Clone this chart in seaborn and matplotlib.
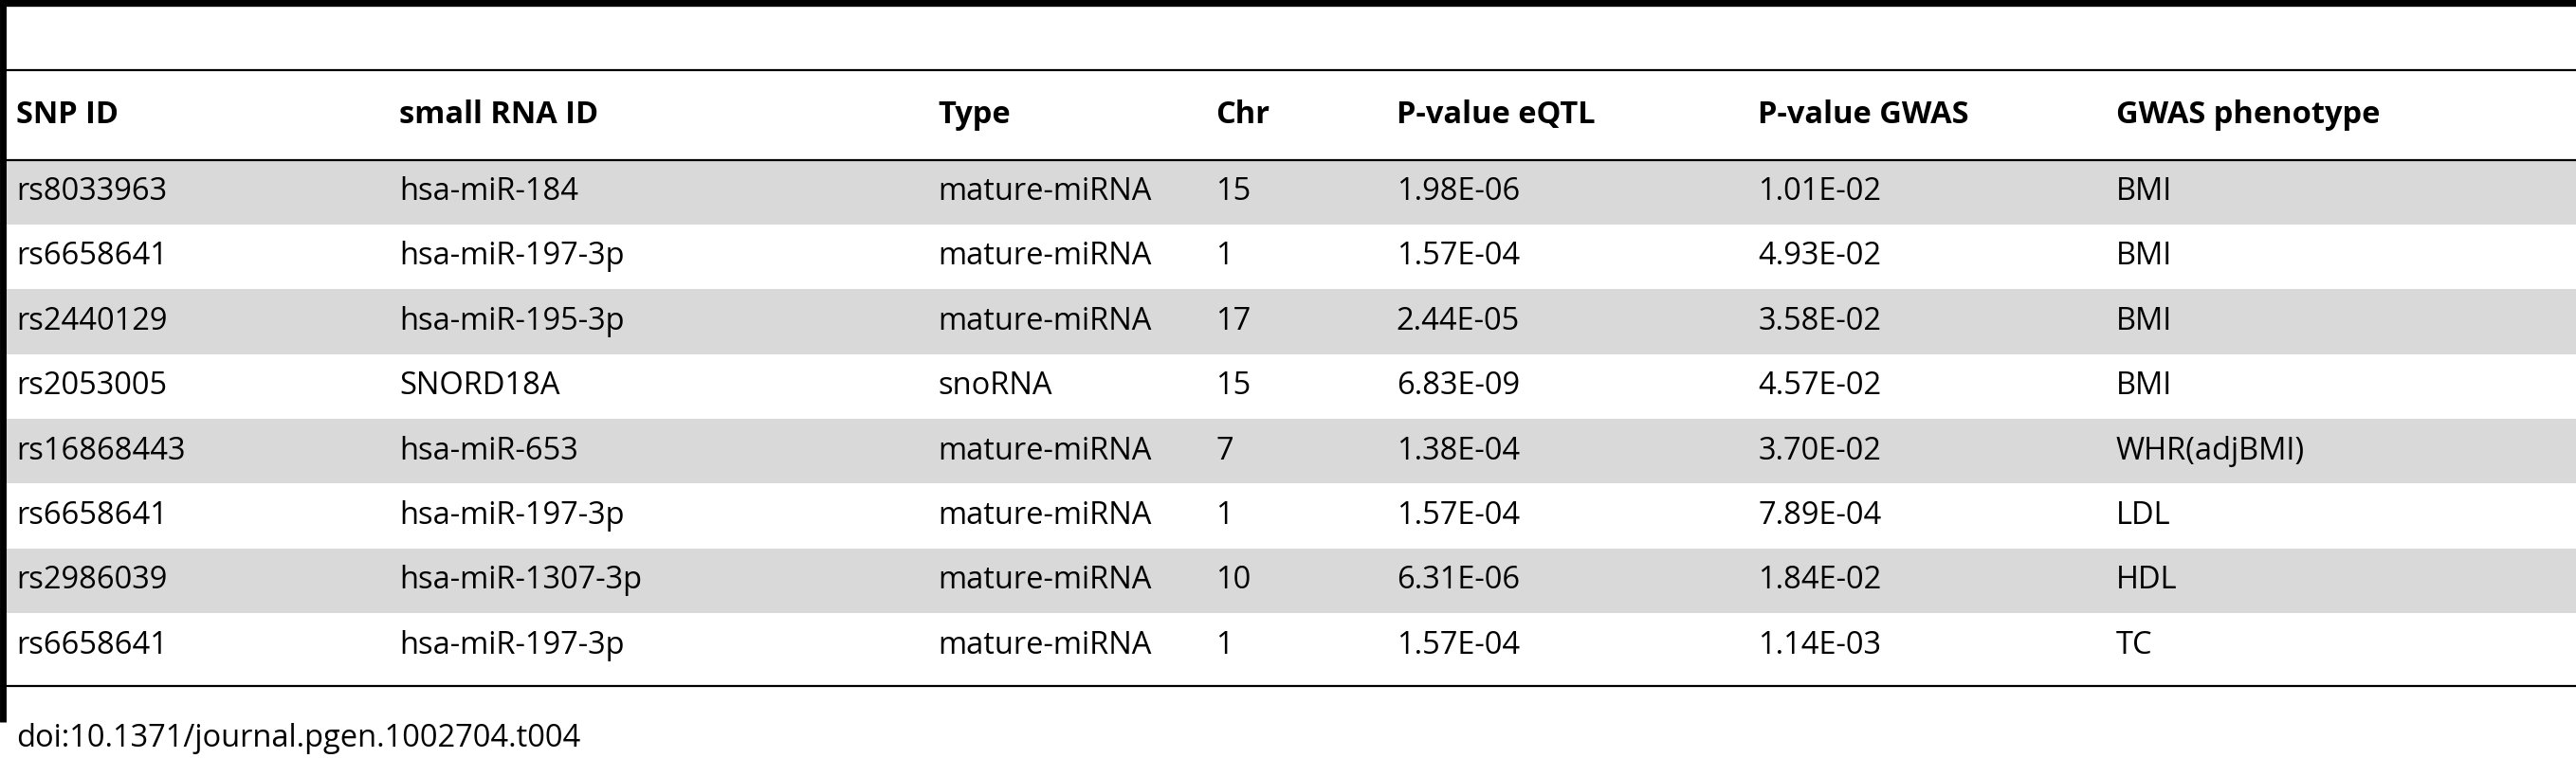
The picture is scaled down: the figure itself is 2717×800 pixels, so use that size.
import matplotlib
matplotlib.use("Agg")
import matplotlib.pyplot as plt
import seaborn as sns

headers = ["SNP ID", "small RNA ID", "Type", "Chr", "P-value eQTL", "P-value GWAS", "GWAS phenotype"]
snp_ids = ["rs8033963", "rs6658641", "rs2440129", "rs2053005", "rs16868443", "rs6658641", "rs2986039", "rs6658641"]
rna_ids = ["hsa-miR-184", "hsa-miR-197-3p", "hsa-miR-195-3p", "SNORD18A", "hsa-miR-653",
           "hsa-miR-197-3p", "hsa-miR-1307-3p", "hsa-miR-197-3p"]
types = ["mature-miRNA", "mature-miRNA", "mature-miRNA", "snoRNA", "mature-miRNA",
         "mature-miRNA", "mature-miRNA", "mature-miRNA"]
chrs = ["15", "1", "17", "15", "7", "1", "10", "1"]
p_eqtl = ["1.98E-06", "1.57E-04", "2.44E-05", "6.83E-09", "1.38E-04", "1.57E-04", "6.31E-06", "1.57E-04"]
p_gwas = ["1.01E-02", "4.93E-02", "3.58E-02", "4.57E-02", "3.70E-02", "7.89E-04", "1.84E-02", "1.14E-03"]
phenos = ["BMI", "BMI", "BMI", "BMI", "WHR(adjBMI)", "LDL", "HDL", "TC"]
footer = "doi:10.1371/journal.pgen.1002704.t004"

sns.set_theme(style="white")
plt.rcParams['font.family'] = ['Open Sans', 'DejaVu Sans']

# layout in pixel units of the 1568x462 reference view
W, H = 1568, 462
col_x = [10, 243, 571, 740, 850, 1070, 1288]
row_h = 39.5
first_row = 117
fs = 23.5

fig = plt.figure(figsize=(27.17, 8), dpi=100)
ax = fig.add_axes([0, 0, 1, 1])
ax.set_xlim(0, W)
ax.set_ylim(H, 0)
ax.axis("off")

columns = [snp_ids, rna_ids, types, chrs, p_eqtl, p_gwas, phenos]
for i in range(len(snp_ids)):
    yc = first_row + i * row_h
    if i % 2 == 0:
        ax.fill_between([3, W], yc - row_h / 2, yc + row_h / 2, color="#d9d9d9", lw=0)
    for x, col in zip(col_x, columns):
        ax.text(x, yc, col[i], fontsize=fs, va="center", ha="left", color="black")

for x, h in zip(col_x, headers):
    ax.text(x, 70, h, fontsize=fs, va="center", ha="left", fontweight="bold", color="black")

ax.plot([0, W], [2, 2], color="black", lw=6, solid_capstyle="butt")
ax.plot([0, W], [43, 43], color="black", lw=1.6)
ax.plot([0, W], [97.5, 97.5], color="black", lw=1.6)
ax.plot([0, W], [418, 418], color="black", lw=1.6)
ax.plot([1.5, 1.5], [0, 440], color="black", lw=5, solid_capstyle="butt")

ax.text(10, 450, footer, fontsize=fs, va="center", ha="left", color="black")

fig.savefig("out.png", dpi=100)
